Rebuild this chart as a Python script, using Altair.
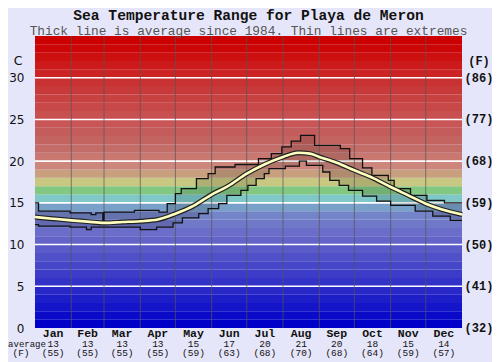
import altair as alt
import pandas as pd

TITLE = "Sea Temperature Range for Playa de Meron"
SUBTITLE = "Thick line is average since 1984. Thin lines are extremes"

months = ["Jan", "Feb", "Mar", "Apr", "May", "Jun", "Jul", "Aug", "Sep", "Oct", "Nov", "Dec"]
month_start = [0, 31, 59, 90, 120, 151, 181, 212, 243, 273, 304, 334, 365]
avg_c_labels = [13, 13, 13, 13, 15, 17, 20, 21, 20, 18, 15, 14]
avg_f_labels = [55, 55, 55, 55, 59, 63, 68, 70, 68, 64, 59, 57]

c_ticks = [0, 5, 10, 15, 20, 25, 30]
f_ticks = [32, 41, 50, 59, 68, 77, 86]

# average (thick line): day of year -> deg C
avg_days = [0, 15, 31, 45, 59, 75, 90, 105, 120, 135, 151, 165, 181, 196, 212, 225,
            235, 243, 258, 273, 290, 304, 319, 334, 348, 365]
avg_vals = [13.3, 13.1, 12.9, 12.75, 12.6, 12.7, 12.8, 13.0, 13.7, 14.6, 16.0, 17.0,
            18.5, 19.6, 20.5, 21.0, 20.9, 20.5, 19.8, 18.9, 17.9, 16.9, 15.9, 14.9, 14.2, 13.6]

# maximum extreme (step line)
max_days = [0, 3, 30, 48, 52, 58, 59, 85, 106, 113, 120, 125, 138, 148, 154, 171, 191,
            202, 211, 219, 227, 239, 261, 269, 280, 288, 302, 307, 321, 335, 350, 365]
max_vals = [15.0, 14.0, 13.8, 13.6, 13.8, 12.8, 13.9, 14.1, 13.9, 14.9, 16.1, 16.7, 17.9,
            18.5, 19.3, 19.6, 20.3, 20.9, 21.7, 22.4, 23.1, 21.9, 21.5, 20.3, 19.2, 18.3,
            17.7, 16.7, 15.9, 15.3, 15.0, 15.0]

# minimum extreme (step line)
min_days = [0, 3, 30, 44, 48, 90, 104, 118, 126, 140, 148, 157, 164, 176, 182, 189, 196,
            200, 214, 226, 232, 246, 252, 260, 268, 280, 292, 304, 325, 340, 355, 365]
min_vals = [12.4, 12.2, 12.1, 11.8, 12.1, 11.8, 12.1, 12.6, 13.2, 13.7, 14.3, 14.9, 15.9,
            16.5, 17.1, 17.9, 18.5, 19.1, 19.4, 20.0, 19.5, 18.7, 17.7, 17.1, 16.5, 15.8,
            15.2, 14.7, 14.0, 13.4, 12.9, 12.9]

# background band colours, 1 degree each, from 0 upward (style)
band_colors = ["#0000c8", "#0a0ac8", "#1414c8", "#1e1ec8", "#2828c8", "#3232c8", "#3c3cc8",
               "#4646c8", "#5050c8", "#5a5ac8", "#6464c8", "#6a6ec8", "#7078c8", "#7484c8",
               "#78a0c8", "#7ec8c8", "#82c882", "#c8c882", "#c8a07e", "#cd867c", "#c87870",
               "#c46c68", "#c46460", "#c45c5c", "#c85656", "#c85050", "#c84848", "#c84242",
               "#c83a3a", "#c83232", "#cc2424", "#cc1a1a", "#cc1010", "#cc0606", "#cc0000"]

MONO = "Liberation Mono"
W, H = 427, 292

x_scale = alt.Scale(domain=[0, 365], nice=False, zero=False)
y_scale = alt.Scale(domain=[0, 35], nice=False, zero=False)

bands = pd.DataFrame({"lo": list(range(len(band_colors))),
                      "hi": [i + 1 for i in range(len(band_colors))],
                      "col": band_colors})
avg_df = pd.DataFrame({"day": avg_days, "t": avg_vals})
max_df = pd.DataFrame({"day": max_days, "t": max_vals})
min_df = pd.DataFrame({"day": min_days, "t": min_vals})

all_days = sorted(set(max_days) | set(min_days))
rng = pd.DataFrame({"day": all_days})
rng["hi"] = max_df.set_index("day")["t"].reindex(all_days).ffill().values
rng["lo"] = min_df.set_index("day")["t"].reindex(all_days).ffill().values

mdf = pd.DataFrame({
    "m": months,
    "mid": [(month_start[i] + month_start[i + 1]) / 2 for i in range(12)],
    "c": [str(v) for v in avg_c_labels],
    "f": ["(%d)" % v for v in avg_f_labels],
})
vlines = pd.DataFrame({"d": month_start[1:-1]})
grid = pd.DataFrame({"c": c_ticks[1:]})
rlab = pd.DataFrame({"c": c_ticks, "f": ["(%d)" % v for v in f_ticks]})

y_axis = alt.Axis(values=c_ticks, title=None, domain=False, ticks=False, tickSize=0,
                  grid=False, labelPadding=11, labelFont="DejaVu Sans", labelFontSize=12,
                  labelColor="#111111")


def Y(field):
    return alt.Y(field, scale=y_scale, axis=y_axis)


def X(field):
    return alt.X(field, scale=x_scale, axis=None)


bg = alt.Chart(bands).mark_rect().encode(
    x=alt.value(0), x2=alt.value(W),
    y=Y("lo:Q"), y2="hi:Q",
    color=alt.Color("col:N", scale=None),
)

gridl = alt.Chart(grid).mark_rule(color="white", strokeWidth=1.6).encode(y=Y("c:Q"))

vl = alt.Chart(vlines).mark_rule(color="#555555", strokeWidth=1, opacity=0.7).encode(x=X("d:Q"))

shade = alt.Chart(rng).mark_area(interpolate="step-after", color="black", opacity=0.12).encode(
    x=X("day:Q"), y=Y("lo:Q"), y2="hi:Q")

maxl = alt.Chart(max_df).mark_line(interpolate="step-after", color="#111111", strokeWidth=1.3).encode(
    x=X("day:Q"), y=Y("t:Q"))
minl = alt.Chart(min_df).mark_line(interpolate="step-after", color="#111111", strokeWidth=1.3).encode(
    x=X("day:Q"), y=Y("t:Q"))

avg_edge = alt.Chart(avg_df).mark_line(interpolate="monotone", color="#222222", strokeWidth=5).encode(
    x=X("day:Q"), y=Y("t:Q"))
avg_core = alt.Chart(avg_df).mark_line(interpolate="monotone", color="#ffffc0", strokeWidth=2.6).encode(
    x=X("day:Q"), y=Y("t:Q"))

title_t = alt.Chart(pd.DataFrame({"t": [TITLE]})).mark_text(
    font=MONO, fontWeight="bold", fontSize=14.6, color="#111111", align="center",
    baseline="alphabetic").encode(x=alt.value(W / 2), y=alt.value(-16), text="t:N")
sub_t = alt.Chart(pd.DataFrame({"t": [SUBTITLE]})).mark_text(
    font=MONO, fontSize=12.8, color="#555555", align="center",
    baseline="alphabetic").encode(x=alt.value(W / 2), y=alt.value(-0.8), text="t:N")

c_lab = alt.Chart(pd.DataFrame({"l": ["C"], "y": [32]})).mark_text(
    font="DejaVu Sans", fontSize=12.5, color="#111111", align="center", baseline="middle").encode(
    x=alt.value(-17), y=Y("y:Q"), text="l:N")
f_lab = alt.Chart(pd.DataFrame({"l": ["(F)"], "y": [32]})).mark_text(
    font=MONO, fontWeight="bold", fontSize=12, color="#111111", align="center", baseline="middle").encode(
    x=alt.value(444), y=Y("y:Q"), text="l:N")
r_labs = alt.Chart(rlab).mark_text(
    font=MONO, fontWeight="bold", fontSize=12, color="#111111", align="center", baseline="middle").encode(
    x=alt.value(444), y=Y("c:Q"), text="f:N")

m_names = alt.Chart(mdf).mark_text(
    font=MONO, fontWeight="bold", fontSize=11.5, color="#111111", align="center", baseline="alphabetic").encode(
    x=X("mid:Q"), y=alt.value(301), text="m:N")
m_c = alt.Chart(mdf).mark_text(
    font=MONO, fontSize=9.5, color="#111111", align="center", baseline="alphabetic").encode(
    x=X("mid:Q"), y=alt.value(310.5), text="c:N")
m_f = alt.Chart(mdf).mark_text(
    font=MONO, fontSize=9.5, color="#111111", align="center", baseline="alphabetic").encode(
    x=X("mid:Q"), y=alt.value(320), text="f:N")
avg_word = alt.Chart(pd.DataFrame({"l": ["average"]})).mark_text(
    font=MONO, fontSize=9, color="#111111", align="center", baseline="alphabetic").encode(
    x=alt.value(-8), y=alt.value(310.5), text="l:N")
f_word = alt.Chart(pd.DataFrame({"l": ["(F)"]})).mark_text(
    font=MONO, fontSize=9.5, color="#111111", align="center", baseline="alphabetic").encode(
    x=alt.value(-14), y=alt.value(320), text="l:N")

chart = alt.layer(
    bg, gridl, shade, vl, maxl, minl, avg_edge, avg_core,
    title_t, sub_t, c_lab, f_lab, r_labs, m_names, m_c, m_f, avg_word, f_word,
).properties(
    width=W, height=H,
    autosize=alt.AutoSizeParams(type="none"),
    padding={"left": 27, "top": 28, "right": 30, "bottom": 34},
    background="#e6e6fa",
).configure_view(stroke=None)

chart.save("out.html", embed_options={"renderer": "svg", "actions": False})
